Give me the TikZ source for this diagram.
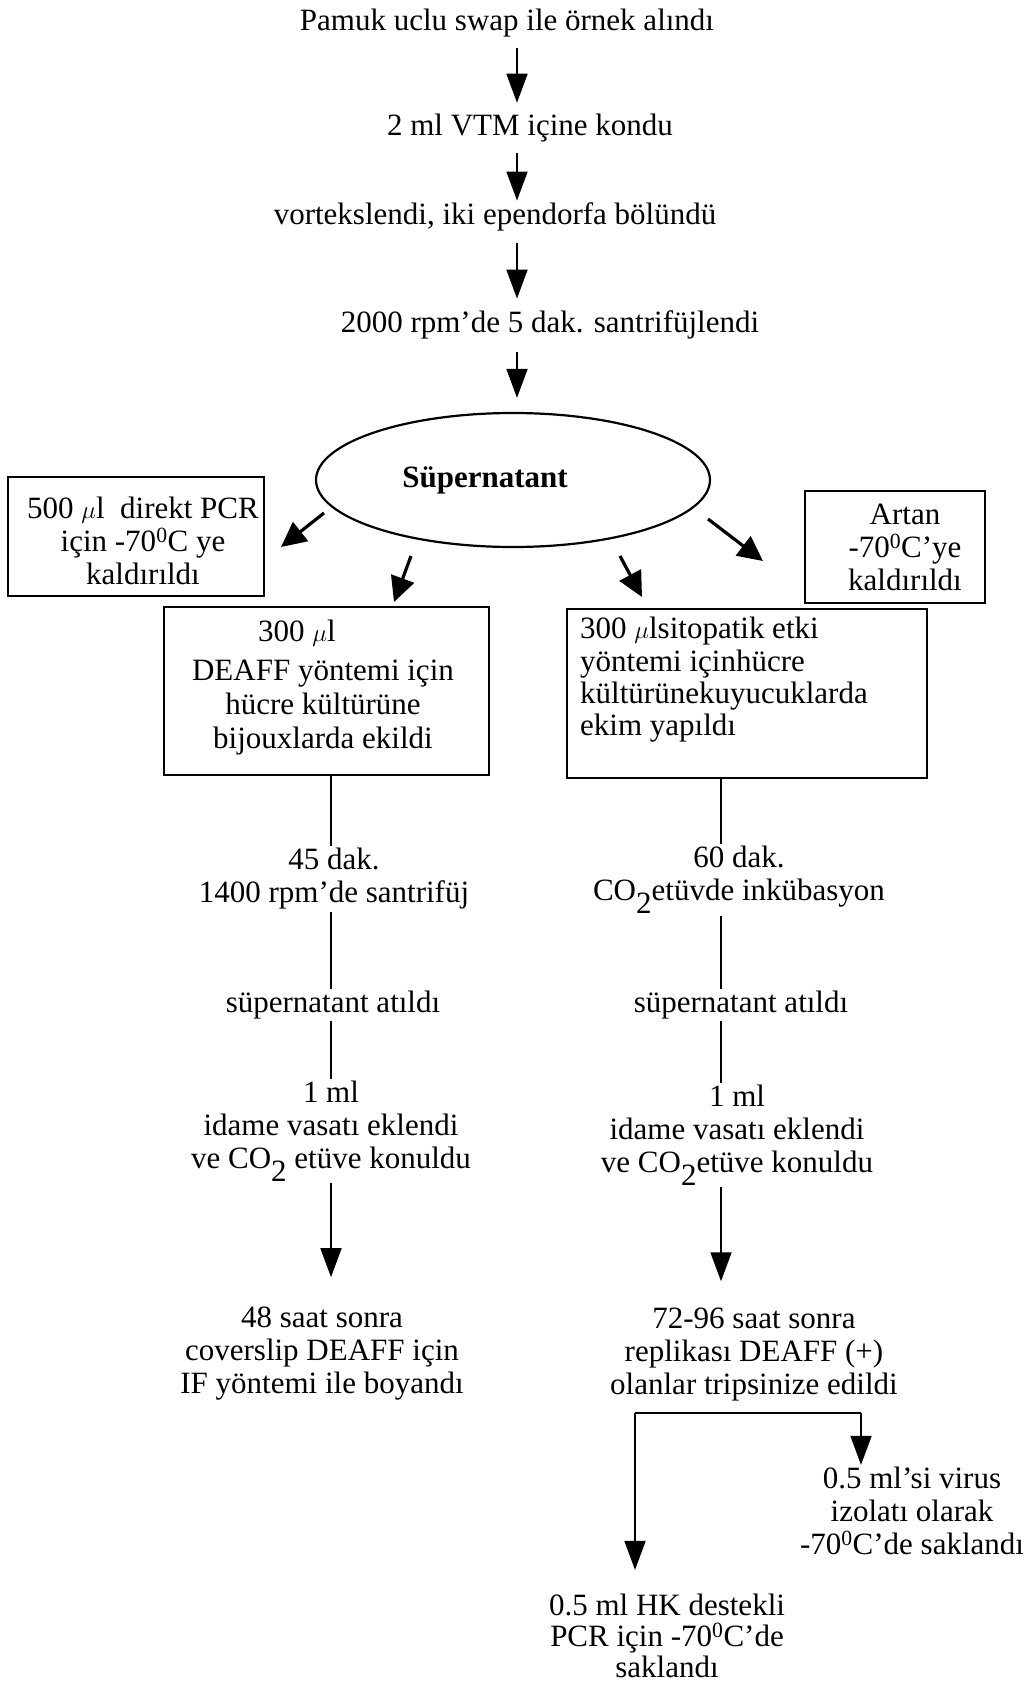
\documentclass[tikz,border=0pt]{standalone}
\usepackage{fontspec}
\setmainfont{Liberation Serif}
\usetikzlibrary{arrows.meta,shapes.geometric,calc}
\newcommand\degz{\textsuperscript{0}}
\newcommand\cotwo{CO\raisebox{-0.42em}{2}}
\begin{document}
\begin{tikzpicture}[x=1pt,y=-1pt,
  txt/.style={font=\fontsize{31}{33}\selectfont, inner sep=2pt, align=center},
  ln/.style={line width=1.8pt},
  arr/.style={line width=1.8pt, -{Triangle[length=29pt,width=21pt]}},
  darr/.style={line width=3.2pt, -{Triangle[length=25pt,width=24pt]}},
  frame/.style={draw, line width=2.6pt, inner sep=0pt},
  gap/.style={shorten <=#1, shorten >=#1}]
\useasboundingbox (0,0) rectangle (1025,1683);

% column guides
\coordinate (M) at (517,0);
\coordinate (L) at (331,0);
\coordinate (R) at (721,0);

% main sequence
\node[txt] (t1) at (507,23) {Pamuk uclu swap ile örnek alındı};
\node[txt] (t2) at (530,128) {2 ml VTM içine kondu};
\node[txt] (t3) at (495,217) {vortekslendi, iki ependorfa bölündü};
\node[txt] (t4) at (550,325) {2000 rpm’de 5 dak. santrifüjlendi};
\node[draw, ellipse, line width=2.2pt, minimum width=394pt, minimum height=134pt, inner sep=0pt,
      font=\fontsize{31}{33}\selectfont] (sup) at (513,480) {\textbf{Süpernatant}\hspace*{56pt}};

\draw[arr, gap=9pt] (t1.south -| M) -- (t2.north -| M);
\draw[arr, shorten <=9pt] (t2.south -| M) -- (t3.north -| M);
\draw[arr, gap=10pt] (t3.south -| M) -- (t4.north -| M);
\draw[arr, shorten <=11pt, shorten >=14pt] (t4.south -| M) -- (sup.north -| M);

% four portions
\node[frame, minimum width=256pt, minimum height=119pt] (pcr) at (136,536.5) {};
\node[txt] (pcrt) at (143,541) {500 $\mu$l\ \ direkt PCR\\ için -70\degz C ye\\ kaldırıldı};

\node[frame, minimum width=180pt, minimum height=112pt] (art) at (895,547) {};
\node[txt] (artt) at (905,547) {Artan\\ -70\degz C’ye\\ kaldırıldı};

\node[frame, minimum width=325pt, minimum height=168pt] (dff) at (326.5,691) {};
\node[txt, font=\fontsize{31}{34}\selectfont] (dfft) at (323,688)
  {\hspace*{-52pt}300 $\mu$l\\[5pt] DEAFF yöntemi için\\ hücre kültürüne\\ bijouxlarda ekildi};

\node[frame, minimum width=360pt, minimum height=169pt] (cpe) at (747,693.5) {};
\node[txt, align=left, anchor=west, font=\fontsize{31}{32.3}\selectfont] (cpet) at (578,680)
  {300 $\mu$lsitopatik etki\\ yöntemi içinhücre\\ kültürünekuyucuklarda\\ ekim yapıldı};

\coordinate (d1s) at (324,513);  \coordinate (d1e) at (281,547);
\coordinate (d2s) at (411,556);  \coordinate (d2e) at (394,602);
\coordinate (d3s) at (620,556);  \coordinate (d3e) at (642,597);
\coordinate (d4s) at (708,519);  \coordinate (d4e) at (763,561);
\draw[darr] (d1s) -- (d1e);
\draw[darr] (d2s) -- (d2e);
\draw[darr] (d3s) -- (d3e);
\draw[darr] (d4s) -- (d4e);

% left column: DEAFF
\node[txt] (l1) at (334,879) {45 dak.\\ 1400 rpm’de santrifüj};
\node[txt] (l2) at (333,1005) {süpernatant atıldı};
\node[txt] (l3) at (331,1131) {1 ml\\ idame vasatı eklendi\\ ve \cotwo\ etüve konuldu};
\node[txt] (l4) at (322,1354) {48 saat sonra\\ coverslip DEAFF için\\ IF yöntemi ile boyandı};
\draw[ln] (dff.south -| L) -- (l1.north -| L);
\draw[ln] (l1.south -| L) -- (l2.north -| L);
\draw[ln] (l2.south -| L) -- (l3.north -| L);
\draw[arr, shorten >=28pt] (l3.south -| L) -- (l4.north -| L);

% right column: cytopathic effect
\node[txt] (r1) at (739,880) {60 dak.\\ \cotwo etüvde inkübasyon};
\node[txt] (r2) at (741,1005) {süpernatant atıldı};
\node[txt] (r3) at (737,1135) {1 ml\\ idame vasatı eklendi\\ ve \cotwo etüve konuldu};
\node[txt] (r4) at (754,1355) {72-96 saat sonra\\ replikası DEAFF (+)\\ olanlar tripsinize edildi};
\draw[ln] (cpe.south -| R) -- (r1.north -| R);
\draw[ln] (r1.south -| R) -- (r2.north -| R);
\draw[ln] (r2.south -| R) -- (r3.north -| R);
\draw[arr, shorten >=25pt] (r3.south -| R) -- (r4.north -| R);

% split of the trypsinised cells
\node[txt] (vir) at (912,1511) {0.5 ml’si virus\\ izolatı olarak\\ -70\degz C’de saklandı};
\node[txt, font=\fontsize{31}{31}\selectfont] (hk) at (667,1636) {0.5 ml HK destekli\\ PCR için -70\degz C’de\\ saklandı};
\coordinate (bl) at (635,1413);
\coordinate (br) at (861,1413);
\draw[line width=2.8pt] (bl) -- (br);
\draw[arr] (br) -- (vir.north -| br);
\draw[arr, shorten >=22pt] (bl) -- (hk.north -| bl);
\end{tikzpicture}
\end{document}
